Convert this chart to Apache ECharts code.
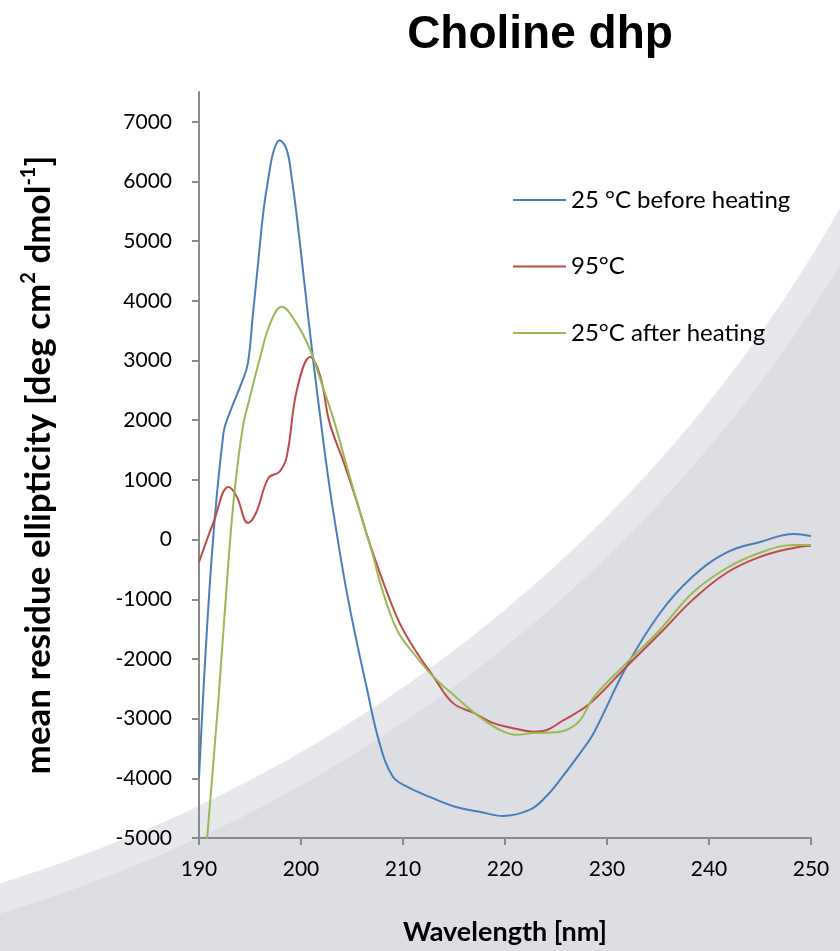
<!DOCTYPE html>
<html>
<head>
<meta charset="utf-8">
<script src="https://cdn.jsdelivr.net/npm/echarts@6/dist/echarts.min.js"></script>
<style>
  html, body { margin: 0; padding: 0; background: #fff; }
  #chart { width: 840px; height: 951px; }
</style>
</head>
<body>
<div id="chart"></div>
<script>
// wavelength (nm) and mean residue ellipticity
var beforeWl = [190, 191.2, 192.4, 193.0, 194.3, 194.8, 195.3, 195.8, 196.3, 196.8, 197.3, 197.9, 198.6, 199.1, 199.6, 200.3, 201.2, 202.0, 202.8, 203.7, 204.4, 205.2, 206.4, 207.7, 209.0, 210.4, 212.6, 215.2, 217.5, 219.8, 222.4, 224.0, 225.6, 227.4, 228.7, 231.9, 235.2, 238.4, 241.7, 245.0, 248.3, 250];
var beforeVal = [-4000, -400, 1790, 2120, 2680, 2960, 3800, 4640, 5480, 6050, 6500, 6690, 6530, 6050, 5400, 4350, 3000, 1900, 880, -100, -800, -1500, -2450, -3410, -3970, -4140, -4310, -4480, -4560, -4630, -4530, -4310, -3980, -3570, -3240, -2130, -1230, -620, -220, -40, 95, 60];

var hotWl = [190, 191.4, 192.9, 193.7, 194.8, 195.6, 196.8, 197.9, 198.6, 199.6, 200.9, 201.9, 202.8, 204.2, 205.5, 207.0, 209.4, 211.0, 213.0, 214.9, 216.9, 218.8, 220.8, 222.8, 224.1, 225.7, 227.4, 228.7, 231.9, 235.2, 238.4, 241.7, 245.0, 248.3, 250];
var hotVal = [-380, 280, 880, 720, 280, 450, 1030, 1140, 1390, 2510, 3060, 2730, 1960, 1290, 620, -200, -1300, -1800, -2300, -2740, -2900, -3070, -3160, -3220, -3190, -3030, -2860, -2690, -2130, -1570, -1010, -560, -290, -140, -105];

var afterWl = [190, 190.8, 191.9, 192.9, 193.5, 194.3, 195.0, 196.0, 197.0, 198.1, 199.5, 200.9, 201.9, 203.2, 204.5, 205.8, 207.1, 207.8, 209.4, 211.0, 213.0, 215.2, 217.5, 219.5, 221.1, 222.8, 225.1, 226.4, 227.4, 228.7, 231.9, 235.2, 238.4, 241.7, 245.0, 248.3, 250];
var afterVal = [-6700, -5000, -2690, -340, 830, 1890, 2390, 3060, 3630, 3900, 3640, 3180, 2680, 2010, 1220, 450, -290, -750, -1510, -1900, -2300, -2640, -2970, -3190, -3270, -3240, -3230, -3160, -3020, -2640, -2070, -1510, -890, -480, -220, -90, -90];

var seriesNames = ['25 °C before heating', '95°C', '25°C after heating'];
var yTicks = [-5000, -4000, -3000, -2000, -1000, 0, 1000, 2000, 3000, 4000, 5000, 6000, 7000];

function pairs(xs, ys) {
  return xs.map(function (x, i) { return [x, ys[i]]; });
}

var chart = echarts.init(document.getElementById('chart'));

var option = {
  backgroundColor: '#dcdee3',
  animation: false,
  graphic: [
    { type: 'circle', z: -10, silent: true, shape: { cx: -426, cy: -507, r: 1483 }, style: { fill: '#e6e8eb' } },
    { type: 'circle', z: -10, silent: true, shape: { cx: -426, cy: -507, r: 1454 }, style: { fill: '#ffffff' } }
  ],
  title: {
    text: 'Choline dhp',
    left: 535,
    textAlign: 'center',
    top: 7,
    textStyle: { fontFamily: 'Liberation Sans', fontWeight: 'bold', fontSize: 46, color: '#000' }
  },
  legend: {
    orient: 'vertical',
    left: 513,
    top: 188,
    padding: 0,
    icon: 'rect',
    itemWidth: 53,
    itemHeight: 2,
    itemGap: 42.5,
    textStyle: { fontFamily: 'Lato', fontSize: 24, lineHeight: 24, color: '#000' },
    data: seriesNames
  },
  grid: { left: 199, right: 29, top: 92, bottom: 113 },
  xAxis: {
    type: 'value',
    min: 190,
    max: 250,
    interval: 10,
    name: 'Wavelength [nm]',
    nameLocation: 'middle',
    nameGap: 81,
    nameTextStyle: { fontFamily: 'Lato', fontWeight: 'bold', fontSize: 27, color: '#000' },
    axisLine: { onZero: false, lineStyle: { color: '#8a8a8a', width: 2 } },
    axisTick: { length: 7, lineStyle: { color: '#8a8a8a', width: 2 } },
    axisLabel: { fontFamily: 'Lato', fontSize: 21, color: '#000', margin: 21, formatter: function (v) { return String(v); } },
    splitLine: { show: false }
  },
  yAxis: {
    type: 'value',
    min: -5000,
    max: 7500,
    interval: 1000,
    name: 'mean residue ellipticity [deg cm{sup|2} dmol{sup|-1}]',
    nameLocation: 'middle',
    nameRotate: 90,
    nameGap: 140,
    nameTextStyle: {
      fontFamily: 'Lato', fontWeight: 'bold', fontSize: 35, color: '#000', lineHeight: 40,
      rich: { sup: { fontFamily: 'Lato', fontWeight: 'bold', fontSize: 20, color: '#000', verticalAlign: 'top', lineHeight: 40 } }
    },
    axisLine: { show: true, lineStyle: { color: '#8a8a8a', width: 2 } },
    axisTick: { show: true, length: 7, customValues: yTicks, lineStyle: { color: '#8a8a8a', width: 2 } },
    axisLabel: { fontFamily: 'Lato', fontSize: 21, color: '#000', margin: 27, customValues: yTicks, formatter: function (v) { return String(v); } },
    splitLine: { show: false }
  },
  series: [
    { name: seriesNames[0], type: 'line', data: pairs(beforeWl, beforeVal), smooth: 0.4, symbol: 'none', clip: true,
      lineStyle: { width: 2, color: '#4a7ebb' }, itemStyle: { color: '#4a7ebb' } },
    { name: seriesNames[1], type: 'line', data: pairs(hotWl, hotVal), smooth: 0.4, symbol: 'none', clip: true,
      lineStyle: { width: 2, color: '#be4b48' }, itemStyle: { color: '#be4b48' } },
    { name: seriesNames[2], type: 'line', data: pairs(afterWl, afterVal), smooth: 0.4, symbol: 'none', clip: true,
      lineStyle: { width: 2, color: '#98b954' }, itemStyle: { color: '#98b954' } }
  ]
};

chart.setOption(option);
</script>
</body>
</html>
